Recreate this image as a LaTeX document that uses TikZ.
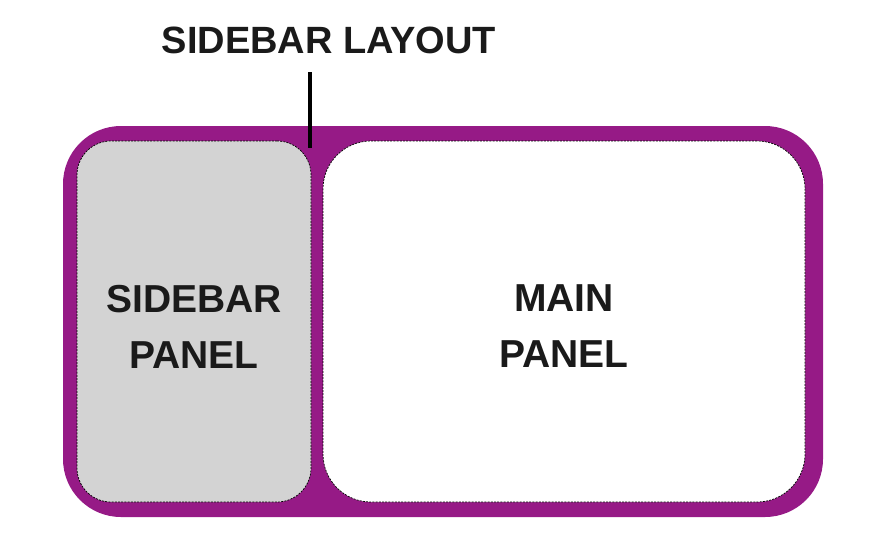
\documentclass[tikz,border=0pt]{standalone}
\usepackage{fontspec}
\setmainfont{Liberation Sans}
\definecolor{frame}{RGB}{150,26,134}
\definecolor{sidegray}{RGB}{211,211,211}
\definecolor{ink}{RGB}{26,26,26}
\begin{document}
\begin{tikzpicture}[x=1pt,y=-1pt,
  outerbox/.style={fill=frame, draw=none, rounded corners=58pt, inner sep=0pt},
  panelbox/.style={draw=black, line width=0.7pt, dash pattern=on 2pt off 1.2pt, inner sep=0pt},
  panellbl/.style={align=center, inner sep=0pt, font=\fontsize{39}{56}\selectfont\bfseries, text=ink},
  titlelbl/.style={font=\fontsize{38}{44}\selectfont\bfseries, text=ink, inner sep=0pt}]
\useasboundingbox (0,0) rectangle (883,555);
\node[outerbox, minimum width=760pt, minimum height=391pt] (outer) at (443,321.5) {};
\node[panelbox, fill=sidegray, rounded corners=34pt, minimum width=234pt, minimum height=361pt] (side) at (194,321.5) {};
\node[panelbox, fill=white, rounded corners=48pt, minimum width=482pt, minimum height=361pt] (main) at (564,321.5) {};
\node[panellbl] (sidelbl) at ([yshift=-5pt]side.center) {SIDEBAR\\PANEL};
\node[panellbl] (mainlbl) at ([yshift=-5pt]main.center) {MAIN\\PANEL};
\node[titlelbl] (title) at (329,40) {SIDEBAR LAYOUT};
\coordinate (tickTop) at (310,72);
\coordinate (tickEnd) at (310,148);
\draw[line width=4pt, black] (tickTop) -- (tickEnd);
\end{tikzpicture}
\end{document}
